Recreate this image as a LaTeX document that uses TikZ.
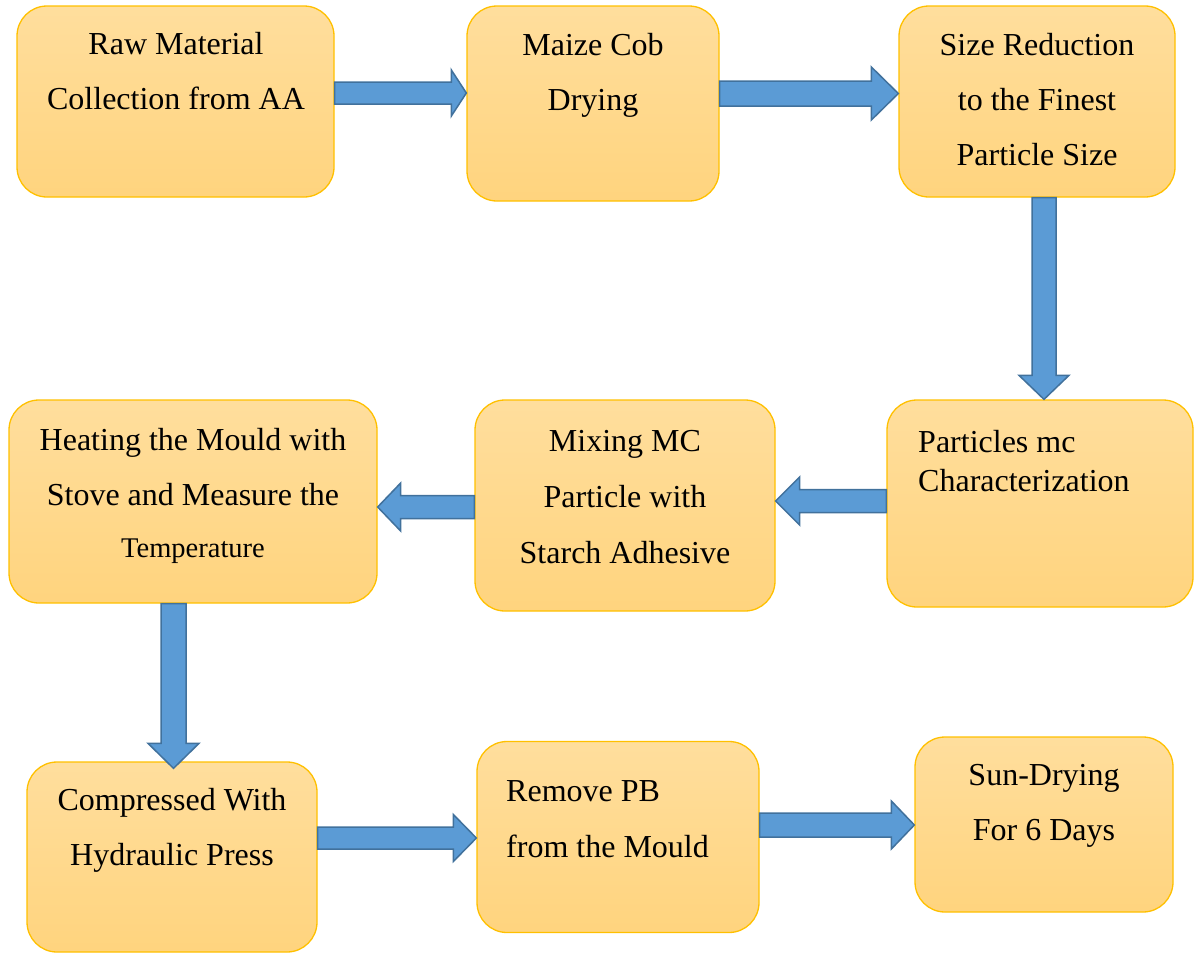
\documentclass[tikz,border=0pt]{standalone}
\usepackage{fontspec}
\setmainfont{Liberation Serif}
\usetikzlibrary{calc}
\definecolor{boxtop}{RGB}{255,222,157}
\definecolor{boxbot}{RGB}{255,212,126}
\definecolor{boxline}{RGB}{255,192,0}
\definecolor{arrfill}{RGB}{91,155,213}
\definecolor{arrline}{RGB}{65,113,156}
\tikzset{
  procbox/.style={draw=boxline, line width=1.3pt, top color=boxtop, bottom color=boxbot,
    rounded corners=30pt, inner sep=0pt, anchor=center},
  txt/.style={inner sep=0pt, anchor=base, font=\fontsize{32}{38}\selectfont},
  txtsmall/.style={inner sep=0pt, anchor=base, font=\fontsize{28.5}{34}\selectfont},
  txtleft/.style={inner sep=0pt, anchor=base west, font=\fontsize{32}{38}\selectfont},
  blockarrow/.style={draw=arrline, fill=arrfill, line width=1.5pt, line join=miter}
}
% #1 start, #2 tip, #3 shaft half width, #4 head half width, #5 head length
\newcommand\barrow[5]{%
  \draw[blockarrow] let \p1=(#1), \p2=(#2),
    \n1={atan2(\y2-\y1,\x2-\x1)}, \n2={veclen(\x2-\x1,\y2-\y1)} in
    [shift={(\x1,\y1)}, rotate=\n1]
    (0,-#3) -- ({\n2-#5},-#3) -- ({\n2-#5},-#4) -- (\n2,0) -- ({\n2-#5},#4)
    -- ({\n2-#5},#3) -- (0,#3) -- cycle;}
\begin{document}
\begin{tikzpicture}[x=1pt,y=-1pt]
\useasboundingbox (0,0) rectangle (1196,953);
% boxes
\node[procbox, minimum width=317pt, minimum height=191pt] (b1) at (175.5,101.5) {};
\node[procbox, minimum width=252pt, minimum height=195pt] (b2) at (593,103.5) {};
\node[procbox, minimum width=276pt, minimum height=191pt] (b3) at (1037,101.5) {};
\node[procbox, minimum width=306pt, minimum height=207pt] (b4) at (1040,503.5) {};
\node[procbox, minimum width=300pt, minimum height=211pt] (b5) at (625,505.5) {};
\node[procbox, minimum width=368pt, minimum height=203pt] (b6) at (193,501.5) {};
\node[procbox, minimum width=290pt, minimum height=190pt] (b7) at (172,857) {};
\node[procbox, minimum width=282pt, minimum height=191pt] (b8) at (618,837) {};
\node[procbox, minimum width=258pt, minimum height=175pt] (b9) at (1044,824.5) {};
% arrows
\barrow{b1.east |- 0,93}{b2.west |- 0,93}{11}{23}{15}
\barrow{b2.east |- 0,93.5}{b3.west |- 0,93.5}{12.5}{26.5}{27}
\barrow{b3.south -| 1044,0}{b4.north -| 1044,0}{12}{25}{24}
\barrow{b4.west |- 0,501}{b5.east |- 0,501}{11.5}{24}{24}
\barrow{b5.west |- 0,507}{b6.east |- 0,507}{11.5}{24}{23}
\coordinate (a6end) at ($(b7.north -| 173.5,0)+(0,7)$);
\barrow{b6.south -| 173.5,0}{a6end}{12.5}{25.5}{25}
\barrow{b7.east |- 0,838}{b8.west |- 0,838}{11}{23.5}{23}
\barrow{b8.east |- 0,825}{b9.west |- 0,825}{12}{24}{23}
% texts
\node[txt] (t1a) at (176,54) {Raw Material};
\node[txt] (t1b) at (176,109) {Collection from AA};
\node[txt] (t2a) at (593,55) {Maize Cob};
\node[txt] (t2b) at (593,110) {Drying};
\node[txt] (t3a) at (1037,55) {Size Reduction};
\node[txt] (t3b) at (1037,110) {to the Finest};
\node[txt] (t3c) at (1037,165) {Particle Size};
\node[txtleft] (t4a) at (918,452) {Particles mc};
\node[txtleft] (t4b) at (918,491) {Characterization};
\node[txt] (t5a) at (625,451) {Mixing MC};
\node[txt] (t5b) at (625,507) {Particle with};
\node[txt] (t5c) at (625,563) {Starch Adhesive};
\node[txt] (t6a) at (193,450) {Heating the Mould with};
\node[txt] (t6b) at (193,505) {Stove and Measure the};
\node[txtsmall] (t6c) at (193,557) {Temperature};
\node[txt] (t7a) at (172,810) {Compressed With};
\node[txt] (t7b) at (172,865) {Hydraulic Press};
\node[txtleft] (t8a) at (506,801) {Remove PB};
\node[txtleft] (t8b) at (506,857) {from the Mould};
\node[txt] (t9a) at (1044,785) {Sun-Drying};
\node[txt] (t9b) at (1044,840) {For 6 Days};
\end{tikzpicture}
\end{document}
